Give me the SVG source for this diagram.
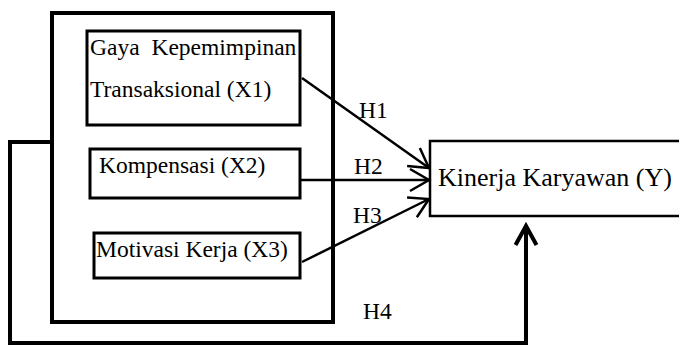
<svg xmlns="http://www.w3.org/2000/svg" width="679" height="347" viewBox="0 0 679 347">
<defs>
<style>
.box{fill:#fff;stroke:#000;stroke-width:3}
.t{font-family:"Liberation Serif","Times New Roman",serif;font-size:23.5px;fill:#000}
.ln{fill:none;stroke:#000;stroke-width:2.5}
.thick{fill:none;stroke:#000;stroke-width:4}
</style>
<marker id="ah" viewBox="-22 -14 26 28" markerWidth="26" markerHeight="28" refX="0" refY="0" orient="auto" markerUnits="userSpaceOnUse" overflow="visible">
<path d="M-19,-11 L0,0 L-19,11" fill="none" stroke="#000" stroke-width="2.5"/>
</marker>
<marker id="ahb" viewBox="-22 -14 26 28" markerWidth="26" markerHeight="28" refX="0" refY="0" orient="auto" markerUnits="userSpaceOnUse" overflow="visible">
<path d="M-19,-10.5 L0,0 L-19,10.5" fill="none" stroke="#000" stroke-width="4"/>
</marker>
</defs>
<rect width="679" height="347" fill="#fff"/>
<g id="group-x">
<rect x="52" y="13" width="281" height="309" fill="none" stroke="#000" stroke-width="4"/>
</g>
<g id="x1">
<rect class="box" x="87" y="31" width="213" height="94"/>
<text class="t" x="90" y="55" word-spacing="6">Gaya Kepemimpinan</text>
<text class="t" x="90" y="97">Transaksional (X1)</text>
</g>
<g id="x2">
<rect class="box" x="90" y="149" width="210" height="49"/>
<text class="t" x="99" y="173">Kompensasi (X2)</text>
</g>
<g id="x3">
<rect class="box" x="94" y="233" width="206" height="45"/>
<text class="t" x="96" y="257">Motivasi Kerja (X3)</text>
</g>
<g id="y">
<rect x="430" y="141" width="260" height="75" fill="#fff" stroke="#000" stroke-width="2.5"/>
<text class="t" x="438" y="186" style="font-size:26px">Kinerja Karyawan (Y)</text>
</g>
<g id="connectors">
<line class="ln" x1="302" y1="78" x2="429" y2="168" marker-end="url(#ah)"/>
<line class="ln" x1="300" y1="180" x2="429" y2="180" marker-end="url(#ah)"/>
<line class="ln" x1="302" y1="262" x2="429" y2="199" marker-end="url(#ah)"/>
<path class="thick" d="M52,142 L10,142 L10,343 L526,343 L526,226" marker-end="url(#ahb)"/>
<text class="t" x="359" y="118">H1</text>
<text class="t" x="354" y="174">H2</text>
<text class="t" x="353" y="223">H3</text>
<text class="t" x="363" y="319">H4</text>
</g>
</svg>
